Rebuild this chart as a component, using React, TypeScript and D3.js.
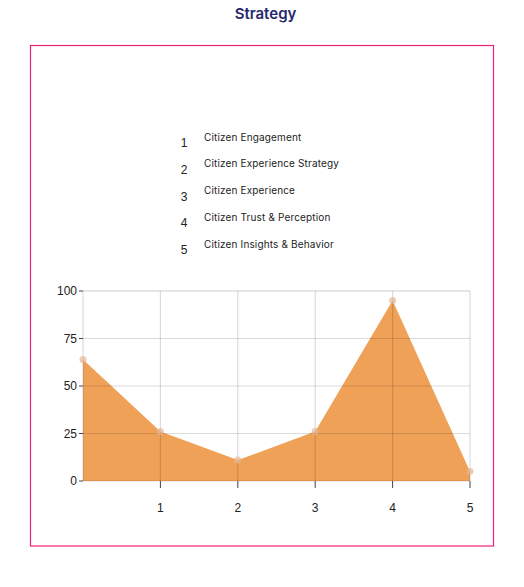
import React from "react";
import * as d3 from "d3";

const legendNumbers = ["1", "2", "3", "4", "5"];
const legendLabels = [
  "Citizen Engagement",
  "Citizen Experience Strategy",
  "Citizen Experience",
  "Citizen Trust & Perception",
  "Citizen Insights & Behavior",
];
const xValues = [0, 1, 2, 3, 4, 5];
const yValues = [64, 26, 11, 26, 95, 5];
const xTicks = [1, 2, 3, 4, 5];
const yTicks = [0, 25, 50, 75, 100];

export default function App() {
  const W = 524;
  const H = 587;
  const x = d3.scaleLinear().domain([0, 5]).range([83, 470]);
  const y = d3.scaleLinear().domain([0, 100]).range([481, 291]);
  const pts = xValues.map((v, i) => [v, yValues[i]] as [number, number]);
  const area = d3
    .area<[number, number]>()
    .x((d) => x(d[0]))
    .y0(y(0))
    .y1((d) => y(d[1]));
  const font = "Inter, 'Noto Sans', sans-serif";
  const tickFont = "'Liberation Sans', Arial, sans-serif";
  return (
    <svg
      width={W}
      height={H}
      style={{ position: "absolute", left: 0, top: 0, background: "#fff" }}
    >
      <text
        x={265.5}
        y={19}
        textAnchor="middle"
        fontFamily={font}
        fontSize={15}
        fontWeight={600}
        fill="#27286b"
      >
        Strategy
      </text>
      <rect
        x={30.5}
        y={45.5}
        width={463}
        height={500.5}
        fill="none"
        stroke="#ec2179"
        strokeWidth={1.2}
      />
      {legendLabels.map((lab, i) => {
        const ly = 137 + i * 26.8;
        return (
          <g key={lab}>
            <text
              x={184}
              y={ly + 10}
              textAnchor="middle"
              fontFamily={tickFont}
              fontSize={12}
              fill="#222"
            >
              {legendNumbers[i]}
            </text>
            <text
              x={204}
              y={ly + 3.5}
              fontFamily={font}
              fontSize={10}
              letterSpacing={0.15}
              fill="#222"
            >
              {lab}
            </text>
          </g>
        );
      })}
      <path d={area(pts) || ""} fill="#f0a158" />
      {/* grid */}
      {yTicks.map((t) => (
        <line
          key={"gy" + t}
          x1={x(0)}
          x2={x(5)}
          y1={y(t)}
          y2={y(t)}
          stroke="#000"
          strokeOpacity={t === 100 ? 0.1 : 0.14}
          strokeWidth={t === 100 ? 2 : 1.2}
        />
      ))}
      {xTicks.map((t) => (
        <line
          key={"gx" + t}
          x1={x(t)}
          x2={x(t)}
          y1={y(0)}
          y2={y(100)}
          stroke="#000"
          strokeOpacity={0.14}
          strokeWidth={1.2}
        />
      ))}
      <line
        x1={x(0)}
        x2={x(0)}
        y1={y(0)}
        y2={y(100)}
        stroke="#000"
        strokeOpacity={0.14}
        strokeWidth={1.2}
      />
      {/* y ticks */}
      {yTicks.map((t) => (
        <g key={"ty" + t}>
          <line x1={x(0) - 4} x2={x(0)} y1={y(t)} y2={y(t)} stroke="#444" />
          <text
            x={x(0) - 6}
            y={y(t) + 4}
            textAnchor="end"
            fontFamily={tickFont}
            fontSize={12}
            fill="#222"
          >
            {t}
          </text>
        </g>
      ))}
      {xTicks.map((t) => (
        <g key={"tx" + t}>
          <line x1={x(t)} x2={x(t)} y1={y(0)} y2={y(0) + 7} stroke="#444" />
          <text
            x={x(t)}
            y={y(0) + 31}
            textAnchor="middle"
            fontFamily={tickFont}
            fontSize={12}
            fill="#222"
          >
            {t}
          </text>
        </g>
      ))}
      {pts.map((p, i) => (
        <circle
          key={"c" + i}
          cx={x(p[0])}
          cy={y(p[1])}
          r={3.5}
          fill="#e6b596"
          fillOpacity={0.7}
        />
      ))}
    </svg>
  );
}
